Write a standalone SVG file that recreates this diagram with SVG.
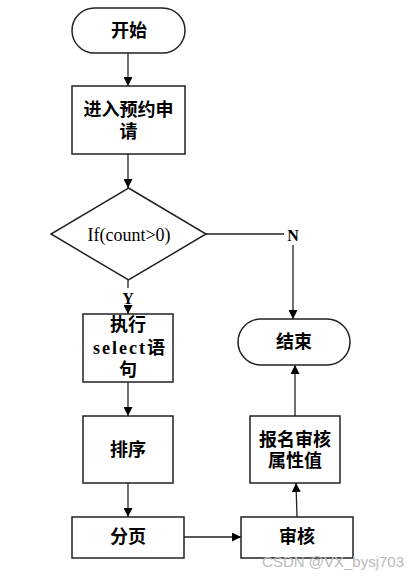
<svg xmlns="http://www.w3.org/2000/svg" width="419" height="579" viewBox="0 0 419 579">
<defs>
<marker id="ah" viewBox="0 0 10 10" refX="10" refY="5" markerWidth="9" markerHeight="9" markerUnits="userSpaceOnUse" orient="auto">
<path d="M0,0 L10,5 L0,10 z" fill="#000"/>
</marker>
<style>
.s{fill:#fff;stroke:#222;stroke-width:1.5}
.t{font-family:"Liberation Serif","Noto Sans CJK SC",serif;font-size:18px;font-weight:bold;fill:#000;text-anchor:middle;dominant-baseline:central}
.c{stroke:#222;stroke-width:1.3;fill:none}
.a{marker-end:url(#ah)}
</style>
</defs>
<rect width="419" height="579" fill="#fff"/>
<g id="connectors">
<line class="c a" x1="128" y1="53" x2="128" y2="86"/>
<line class="c a" x1="128" y1="154" x2="128" y2="188"/>
<line class="c" x1="206" y1="234" x2="284" y2="234"/>
<line class="c a" x1="293" y1="245" x2="293" y2="319"/>
<line class="c" x1="128" y1="280" x2="128" y2="288"/>
<line class="c a" x1="128" y1="306" x2="128" y2="314"/>
<line class="c a" x1="128" y1="382" x2="128" y2="416"/>
<line class="c a" x1="128" y1="483" x2="128" y2="517"/>
<line class="c a" x1="184" y1="537" x2="241" y2="537"/>
<line class="c a" x1="297" y1="517" x2="296" y2="483"/>
<line class="c a" x1="295" y1="416" x2="295" y2="365"/>
<text class="t" x="293" y="235" style="font-size:16px">N</text>
<text class="t" x="128" y="298" style="font-size:16px">Y</text>
</g>
<g id="start">
<rect class="s" x="72" y="8" width="113" height="45" rx="22.5"/>
<text class="t" x="129" y="31">开始</text>
</g>
<g id="apply">
<rect class="s" x="72" y="86" width="113" height="68"/>
<text class="t" x="128.5" y="110">进入预约申</text>
<text class="t" x="128.5" y="132">请</text>
</g>
<g id="decision">
<polygon class="s" points="128.5,188 206,234 128.5,280 51,234"/>
<text class="t" x="129" y="235" style="font-weight:normal;font-size:18px">If(count&gt;0)</text>
</g>
<g id="select">
<rect class="s" x="83" y="314" width="90" height="68"/>
<text class="t" x="128" y="325">执行</text>
<text class="t" x="129" y="348" textLength="72" lengthAdjust="spacing">select语</text>
<text class="t" x="128" y="370">句</text>
</g>
<g id="sort">
<rect class="s" x="83" y="416" width="90" height="67"/>
<text class="t" x="128" y="450">排序</text>
</g>
<g id="page">
<rect class="s" x="72" y="517" width="112" height="41"/>
<text class="t" x="128" y="537">分页</text>
</g>
<g id="review">
<rect class="s" x="241" y="517" width="112" height="41"/>
<text class="t" x="297" y="537">审核</text>
</g>
<g id="attr">
<rect class="s" x="250" y="416" width="90" height="67"/>
<text class="t" x="295" y="440">报名审核</text>
<text class="t" x="295" y="461">属性值</text>
</g>
<g id="end">
<rect class="s" x="238" y="319" width="112" height="46" rx="23"/>
<text class="t" x="294" y="342">结束</text>
</g>
<text x="404" y="567" style="font-family:'Liberation Sans',sans-serif;font-size:15px;fill:#bbb;text-anchor:end">CSDN @VX_bysj703</text>
</svg>
